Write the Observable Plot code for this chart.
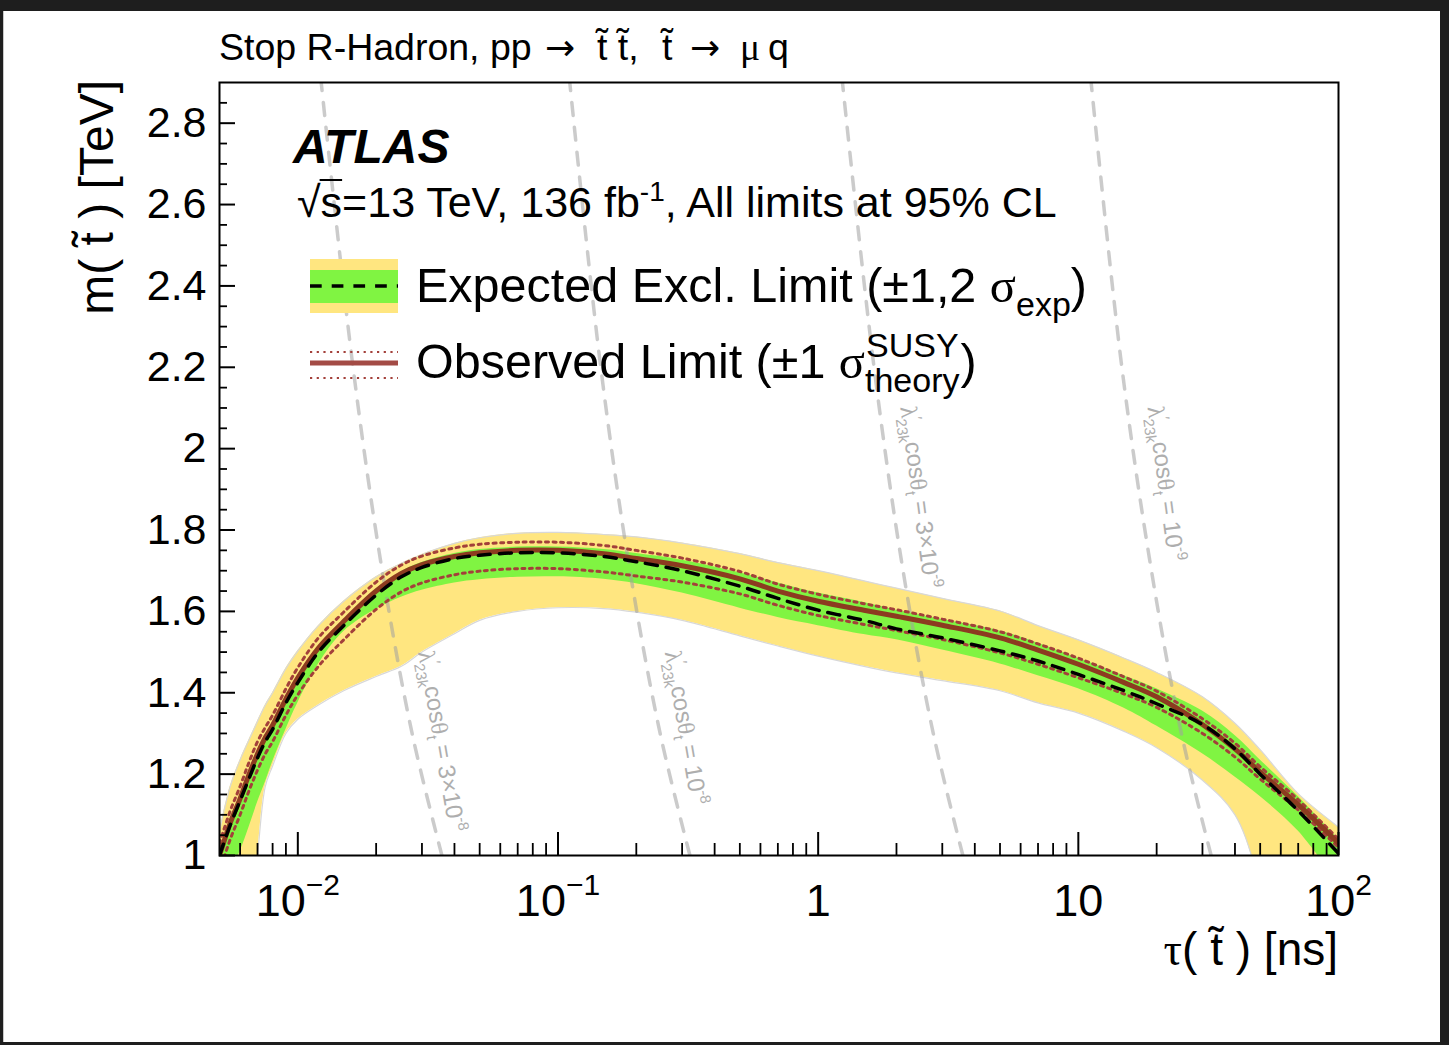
<!DOCTYPE html>
<html><head><meta charset="utf-8">
<script src="https://cdn.jsdelivr.net/npm/d3@7"></script>
<script src="https://cdn.jsdelivr.net/npm/@observablehq/plot@0.6"></script>
<style>
html,body{margin:0;padding:0;background:#1e1e1e;width:1449px;height:1045px;overflow:hidden}
#wrap{position:absolute;left:3px;top:11px;width:1437px;height:1031px;background:#fff}
#wrap svg{position:absolute;left:0;top:0;overflow:visible}
</style></head><body><div id="wrap"></div>
<script>
// ---- data ----
const tau    = [0.005,0.0055,0.006,0.0065,0.007,0.0075,0.008,0.009,0.01,0.012,0.015,0.02,0.025,0.03,0.04,0.05,0.07,0.1,0.15,0.2,0.3,0.5,0.7,1,1.5,2,3,5,7,10,15,20,30,40,50,70,100];
const obsLim = [1.00,1.08,1.14,1.20,1.25,1.29,1.32,1.385,1.437,1.51,1.575,1.650,1.693,1.715,1.735,1.744,1.750,1.750,1.742,1.730,1.712,1.680,1.650,1.625,1.603,1.588,1.566,1.535,1.505,1.470,1.425,1.390,1.322,1.262,1.205,1.125,1.03];
const obsUp  = [1.03,1.11,1.17,1.23,1.28,1.315,1.345,1.41,1.462,1.535,1.598,1.672,1.714,1.736,1.756,1.765,1.770,1.770,1.762,1.750,1.731,1.698,1.667,1.642,1.619,1.604,1.581,1.550,1.520,1.485,1.439,1.404,1.336,1.276,1.218,1.137,1.04];
const obsDn  = [0.96,1.04,1.10,1.16,1.21,1.25,1.28,1.345,1.395,1.465,1.53,1.605,1.648,1.670,1.690,1.699,1.705,1.705,1.697,1.687,1.672,1.643,1.615,1.590,1.568,1.553,1.531,1.498,1.470,1.437,1.397,1.364,1.300,1.242,1.188,1.112,1.02];
const expLim = [1.00,1.075,1.135,1.19,1.24,1.28,1.31,1.375,1.425,1.50,1.565,1.64,1.685,1.708,1.73,1.738,1.744,1.744,1.735,1.722,1.700,1.662,1.632,1.603,1.578,1.557,1.535,1.503,1.478,1.445,1.405,1.373,1.322,1.262,1.20,1.11,1.005];
const exp1Up = [0.99,1.07,1.13,1.19,1.24,1.28,1.31,1.375,1.428,1.505,1.572,1.65,1.697,1.72,1.742,1.752,1.758,1.758,1.752,1.742,1.726,1.695,1.67,1.645,1.622,1.603,1.58,1.552,1.522,1.485,1.442,1.410,1.355,1.295,1.235,1.145,1.04];
const exp1Dn = [0.90,0.96,1.01,1.07,1.13,1.18,1.23,1.31,1.375,1.47,1.55,1.605,1.635,1.652,1.670,1.678,1.684,1.685,1.679,1.668,1.645,1.608,1.585,1.565,1.543,1.530,1.505,1.471,1.442,1.41,1.362,1.318,1.250,1.193,1.145,1.06,0.93];
const exp2Up = [1.06,1.17,1.235,1.285,1.33,1.37,1.40,1.46,1.503,1.565,1.625,1.685,1.718,1.740,1.767,1.781,1.792,1.794,1.789,1.783,1.768,1.742,1.720,1.700,1.675,1.657,1.632,1.601,1.565,1.53,1.485,1.450,1.390,1.325,1.26,1.152,1.07];
const exp2Dn = [0.5,0.6,0.7,0.8,1.0,1.17,1.22,1.30,1.335,1.37,1.405,1.44,1.465,1.50,1.545,1.578,1.600,1.609,1.607,1.598,1.578,1.540,1.515,1.490,1.465,1.449,1.430,1.405,1.375,1.350,1.305,1.265,1.185,1.10,0.93,0.6,0.3];

// coupling iso-lines (lambda'23k cos theta_t)
const couplingM      = [1, 1.3, 1.7, 2.2, 2.9];
const lineTau_3e8    = [0.0358, 0.0275, 0.0211, 0.0163, 0.0123];
const lineTau_1e8    = [0.3215, 0.247, 0.189, 0.146, 0.111];
const lineTau_3e9    = [3.6, 2.77, 2.12, 1.64, 1.24];
const lineTau_1e9    = [32.4, 24.9, 19.1, 14.7, 11.2];
const couplingLabels = ["3×10^-8", "10^-8", "3×10^-9", "10^-9"];
const labelTau       = [0.031, 0.275, 2.21, 19.75];
const labelM         = [1.503, 1.503, 2.104, 2.104];
const labelAngle     = [80.2, 80.2, 82.4, 82.4];

// ticks
const xMajor = [0.01, 0.1, 1, 10, 100];
const xMajorLabels = ["10^−2", "10^−1", "1", "10", "10^2"];
const xMinor = [0.006,0.007,0.008,0.009,0.02,0.03,0.04,0.05,0.06,0.07,0.08,0.09,0.2,0.3,0.4,0.5,0.6,0.7,0.8,0.9,2,3,4,5,6,7,8,9,20,30,40,50,60,70,80,90];
const yMajor = [1, 1.2, 1.4, 1.6, 1.8, 2, 2.2, 2.4, 2.6, 2.8];
const yMinor = [1.05,1.1,1.15,1.25,1.3,1.35,1.45,1.5,1.55,1.65,1.7,1.75,1.85,1.9,1.95,2.05,2.1,2.15,2.25,2.3,2.35,2.45,2.5,2.55,2.65,2.7,2.75,2.85];

// ---- layout / style ----
const W = 1437, H = 1031;
const mL = 216, mR = 102, mT = 71, mB = 187;
const frameW = W - mL - mR, frameH = H - mT - mB;
const SANS = "'Liberation Sans', Arial, Helvetica, sans-serif";
const SERIF = "'Liberation Serif', 'Times New Roman', serif";
const ARROW = "'DejaVu Sans', sans-serif";
const YELLOW = "#ffe680", GREEN = "#80f442";
const OBS = "#8c3b20", OBSDOT = "#a3403a";
const CURVE = "catmull-rom";

const rows = tau.map((t, i) => ({tau: t, obs: obsLim[i], obsUp: obsUp[i], obsDn: obsDn[i], exp: expLim[i],
  e1Up: exp1Up[i], e1Dn: exp1Dn[i], e2Up: exp2Up[i], e2Dn: exp2Dn[i]}));
const couplingTau = [lineTau_3e8, lineTau_1e8, lineTau_3e9, lineTau_1e9];
const lineRows = [];
couplingTau.forEach((arr, k) => arr.forEach((t, j) => lineRows.push({id: k, tau: t, m: couplingM[j]})));
const labelRows = couplingLabels.map((lab, k) => ({key: lab, tau: labelTau[k], m: labelM[k], rot: labelAngle[k]}));

const chart = Plot.plot({
  width: W, height: H, marginLeft: mL, marginRight: mR, marginTop: mT, marginBottom: mB,
  style: {fontFamily: SANS, background: "transparent", color: "black"},
  x: {type: "log", domain: [0.005, 100]},
  y: {domain: [1, 2.9]},
  marks: [
    Plot.areaY(rows, {x: "tau", y1: "e2Dn", y2: "e2Up", fill: YELLOW, curve: CURVE, clip: true}),
    Plot.line(rows, {x: "tau", y: "e2Up", stroke: "#d8d8d8", strokeWidth: 1.2, curve: CURVE, clip: true}),
    Plot.line(rows, {x: "tau", y: "e2Dn", stroke: "#d8d8d8", strokeWidth: 1.2, curve: CURVE, clip: true}),
    Plot.areaY(rows, {x: "tau", y1: "e1Dn", y2: "e1Up", fill: GREEN, curve: CURVE, clip: true}),
    Plot.line(lineRows, {x: "tau", y: "m", z: "id", stroke: "#a0a0a0", strokeOpacity: 0.55, strokeWidth: 3.5, strokeDasharray: "13,12", curve: CURVE, clip: true}),
    Plot.text(labelRows, {x: "tau", y: "m", text: "key", rotate: "rot", textAnchor: "start", fill: "#aeaeae", fontSize: 24}),
    Plot.line(rows, {x: "tau", y: "obsUp", stroke: OBSDOT, strokeWidth: 3, strokeDasharray: "3,4.5", curve: CURVE, clip: true}),
    Plot.line(rows, {x: "tau", y: "obsDn", stroke: OBSDOT, strokeWidth: 3, strokeDasharray: "3,4.5", curve: CURVE, clip: true}),
    Plot.line(rows, {x: "tau", y: "obs", stroke: OBS, strokeWidth: 5, curve: CURVE, clip: true}),
    Plot.line(rows, {x: "tau", y: "exp", stroke: "black", strokeWidth: 3.5, strokeDasharray: "12,9", curve: CURVE, clip: true}),
    Plot.tickY(yMinor, {y: d => d, insetRight: frameW - 8, stroke: "black", strokeWidth: 1.8}),
    Plot.tickY(yMajor, {y: d => d, insetRight: frameW - 16, stroke: "black", strokeWidth: 2}),
    Plot.tickX(xMinor, {x: d => d, insetTop: frameH - 12, stroke: "black", strokeWidth: 1.8}),
    Plot.tickX(xMajor, {x: d => d, insetTop: frameH - 23, stroke: "black", strokeWidth: 2}),
    Plot.axisX({ticks: xMajor, tickSize: 0, tickPadding: 29, fontSize: 45, label: null,
      tickFormat: d => xMajorLabels[xMajor.indexOf(d)]}),
    Plot.axisY({ticks: yMajor, tickSize: 0, tickPadding: 13, fontSize: 43, label: null,
      tickFormat: d => String(+(+d).toFixed(1))}),
    Plot.frame({stroke: "black", strokeWidth: 2})
  ]
});

const wrap = document.getElementById("wrap");
wrap.appendChild(chart);

// rich text for tick labels & coupling labels
const couplingSet = new Set(couplingLabels);
const xSupSet = new Set(xMajorLabels.filter(s => s.includes("^")));
d3.select(chart).selectAll("text").each(function () {
  const s = this.textContent;
  const sel = d3.select(this);
  if (couplingSet.has(s)) {
    const [base, ex] = s.split("^");
    sel.text(null).style("white-space", "pre");
    sel.append("tspan").attr("font-family", SERIF).text("λ");
    sel.append("tspan").attr("dy", -10).attr("font-size", 15).text("′");
    sel.append("tspan").attr("dx", -3).attr("dy", 16).attr("font-size", 15).text("23k");
    sel.append("tspan").attr("dy", -6).text("cos");
    sel.append("tspan").attr("font-family", SERIF).text("θ");
    sel.append("tspan").attr("dy", 6).attr("font-size", 15).text("t");
    sel.append("tspan").attr("dy", -6).text(" = " + base);
    sel.append("tspan").attr("dy", -10).attr("font-size", 15).text(ex);
  } else if (xSupSet.has(s)) {
    const [base, ex] = s.split("^");
    sel.text(base);
    sel.append("tspan").attr("dy", -21).attr("font-size", 30).text(ex);
  }
});

// ---- overlay texts and legend ----
const ov = d3.create("svg").attr("width", W).attr("height", H)
  .style("font-family", SANS).style("white-space", "pre").style("pointer-events", "none");
wrap.appendChild(ov.node());

// left edge hairline of the white panel
ov.append("line").attr("x1", 0.5).attr("x2", 0.5).attr("y1", 0).attr("y2", H).attr("stroke", "#c8c8c8").attr("stroke-width", 1);

const t1 = ov.append("text").attr("y", 49).attr("font-size", 37.5);
t1.append("tspan").attr("x", 216).text("Stop R-Hadron, pp");
t1.append("tspan").attr("x", 542).attr("font-family", ARROW).attr("font-size", 36).text("\u2192");
t1.append("tspan").attr("x", 594).text("t\u0303 t\u0303,");
t1.append("tspan").attr("x", 659).text("t\u0303");
t1.append("tspan").attr("x", 687).attr("font-family", ARROW).attr("font-size", 36).text("\u2192");
t1.append("tspan").attr("x", 737).attr("font-family", SERIF).text("μ");
t1.append("tspan").attr("x", 765).text("q");

ov.append("text").attr("x", 290).attr("y", 152).attr("font-size", 48)
  .attr("font-weight", "bold").attr("font-style", "italic").text("ATLAS");

const t3 = ov.append("text").attr("x", 294).attr("y", 206).attr("font-size", 43);
t3.append("tspan").text("√s=13 TeV, 136 fb");
t3.append("tspan").attr("dy", -16).attr("font-size", 28).text("-1");
t3.append("tspan").attr("dy", 16).text(", All limits at 95% CL");
{
  const n = t3.node();
  const r = n.getExtentOfChar(0);
  const sx1 = n.getEndPositionOfChar(1).x;
  ov.append("line").attr("x1", r.x + r.width - 1).attr("x2", sx1).attr("y1", r.y + 2).attr("y2", r.y + 2)
    .attr("stroke", "black").attr("stroke-width", 2);
}

// legend swatches
ov.append("rect").attr("x", 307).attr("y", 248).attr("width", 88).attr("height", 54).attr("fill", YELLOW);
ov.append("rect").attr("x", 307).attr("y", 259).attr("width", 88).attr("height", 33).attr("fill", GREEN);
ov.append("line").attr("x1", 307).attr("x2", 395).attr("y1", 275).attr("y2", 275)
  .attr("stroke", "black").attr("stroke-width", 3.5).attr("stroke-dasharray", "11.7,10");
[341, 367].forEach(y => ov.append("line").attr("x1", 307).attr("x2", 395).attr("y1", y).attr("y2", y)
  .attr("stroke", OBSDOT).attr("stroke-width", 2.2).attr("stroke-dasharray", "2.2,4.5"));
ov.append("line").attr("x1", 307).attr("x2", 395).attr("y1", 352).attr("y2", 352)
  .attr("stroke", "#a34b45").attr("stroke-width", 5);

const l1 = ov.append("text").attr("x", 413).attr("y", 291).attr("font-size", 48.5);
l1.append("tspan").text("Expected Excl. Limit (±1,2 ");
l1.append("tspan").attr("font-family", SERIF).text("σ");
l1.append("tspan").attr("dy", 14).attr("font-size", 34).text("exp");
l1.append("tspan").attr("dy", -14).text(")");

const l2 = ov.append("text").attr("x", 413).attr("y", 367).attr("font-size", 48.5);
l2.append("tspan").text("Observed Limit (±1 ");
l2.append("tspan").attr("font-family", SERIF).text("σ");
{
  const end = 413 + l2.node().getComputedTextLength();
  const a = ov.append("text").attr("x", end + 1).attr("y", 367 - 21).attr("font-size", 34).text("SUSY");
  const b = ov.append("text").attr("x", end).attr("y", 367 + 14).attr("font-size", 34).text("theory");
  const w = Math.max(a.node().getComputedTextLength() + 1, b.node().getComputedTextLength());
  ov.append("text").attr("x", end + w + 1).attr("y", 367).attr("font-size", 48.5).text(")");
}

// axis titles
ov.append("text").attr("transform", "translate(110,69) rotate(-90)").attr("text-anchor", "end")
  .attr("font-size", 48).text("m( t\u0303 ) [TeV]");
const xt = ov.append("text").attr("x", 1335).attr("y", 954).attr("text-anchor", "end").attr("font-size", 46);
xt.append("tspan").attr("font-family", SERIF).text("τ");
xt.append("tspan").text("( t\u0303 ) [ns]");
</script></body></html>
